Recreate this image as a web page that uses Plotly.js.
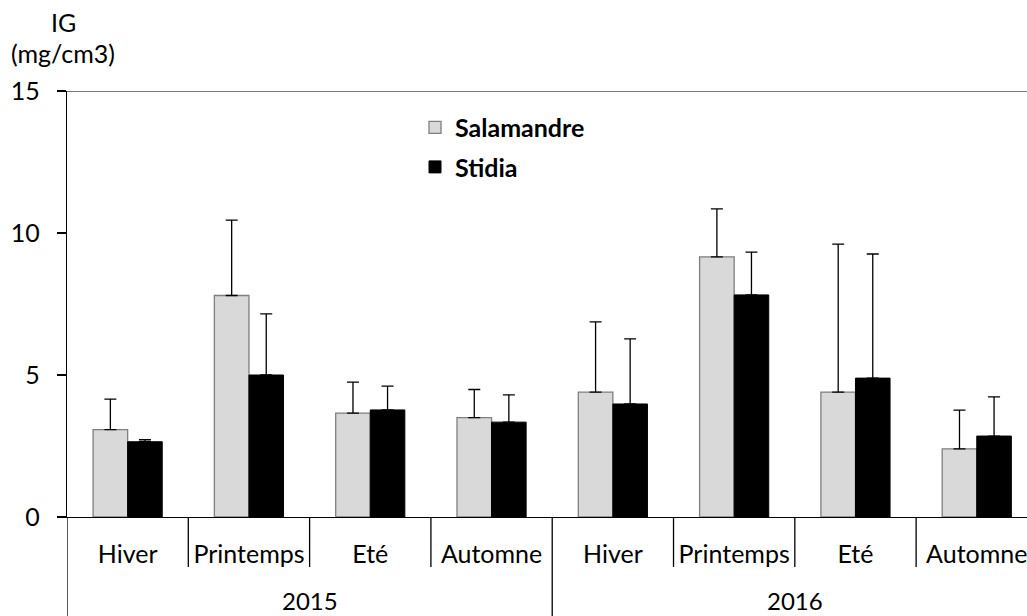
<!DOCTYPE html>
<html>
<head>
<meta charset="utf-8">
<script src="https://cdn.plot.ly/plotly-3.0.1.min.js"></script>
<style>html,body{margin:0;padding:0;background:#fff;overflow:hidden;}</style>
</head>
<body>
<div id="chart" style="width:1027px;height:616px;"></div>
<script>
// Data
const years = ["2015", "2016"];
const seasons = ["Hiver", "Printemps", "Eté", "Automne", "Hiver", "Printemps", "Eté", "Automne"];
const yearOfGroup = ["2015", "2015", "2015", "2015", "2016", "2016", "2016", "2016"];
const salamandre = [3.08, 7.80, 3.66, 3.50, 4.40, 9.16, 4.40, 2.40];
const salamandreErr = [1.07, 2.65, 1.09, 0.99, 2.47, 1.69, 5.21, 1.36];
const stidia = [2.65, 5.00, 3.77, 3.34, 3.98, 7.82, 4.89, 2.85];
const stidiaErr = [0.07, 2.15, 0.84, 0.96, 2.29, 1.51, 4.37, 1.38];
const yTicks = [0, 5, 10, 15];
const seriesNames = ["Salamandre", "Stidia"];
const yTitleLines = ["IG", "(mg/cm3)"];

const FONT = "Lato, 'Open Sans', sans-serif";
const xs = seasons.map((_, i) => i);

const traces = [
  {
    type: "bar", name: "<b>" + seriesNames[0] + "</b>", x: xs, y: salamandre,
    legendgroup: "a",
    marker: {color: "#d9d9d9", line: {color: "#7f7f7f", width: 1.3}},
    error_y: {type: "data", symmetric: false, array: salamandreErr, arrayminus: salamandre.map(() => 0),
      color: "#000", thickness: 1.3, width: 6}
  },
  {
    type: "bar", name: "<b>" + seriesNames[1] + "</b>", x: xs, y: stidia,
    legendgroup: "b",
    marker: {color: "#000000", line: {color: "#000000", width: 1}},
    error_y: {type: "data", symmetric: false, array: stidiaErr, arrayminus: stidia.map(() => 0),
      color: "#000", thickness: 1.3, width: 6}
  }
];

// boundaries between groups, derived from the category arrays
const shapes = [];
for (let i = 0; i < seasons.length; i++) {
  const isYearStart = i === 0 || yearOfGroup[i] !== yearOfGroup[i - 1];
  shapes.push({
    type: "line", xref: "x", yref: "paper",
    x0: i - 0.5, x1: i - 0.5, y0: 0, y1: isYearStart ? -0.235 : -0.1175,
    line: {color: "#000", width: 1.3}
  });
}
// top border line at the max tick
shapes.push({type: "line", xref: "paper", yref: "y", x0: 0, x1: 1,
  y0: yTicks[yTicks.length - 1], y1: yTicks[yTicks.length - 1], line: {color: "#4d4d4d", width: 1.5}});

const annotations = years.map(yr => {
  const idx = yearOfGroup.map((y, i) => y === yr ? i : -1).filter(i => i >= 0);
  const mid = (idx[0] + idx[idx.length - 1]) / 2;
  return {text: yr, xref: "x", yref: "paper", x: mid, y: -0.195, xanchor: "center", yanchor: "middle",
    showarrow: false, font: {family: FONT, size: 24, color: "#000"}};
});
yTitleLines.forEach((t, k) => {
  annotations.push({text: t, xref: "paper", yref: "paper", x: -0.004, y: 1.162 - k * 0.072,
    xanchor: "center", yanchor: "middle", showarrow: false,
    font: {family: FONT, size: 25, color: "#000"}});
});

const layout = {
  width: 1027, height: 616,
  margin: {l: 67, r: 0, t: 91, b: 99},
  paper_bgcolor: "#fff", plot_bgcolor: "#fff",
  font: {family: FONT, color: "#000"},
  barmode: "group", bargap: 0.43, bargroupgap: 0,
  showlegend: true,
  legend: {x: 0.3625, y: 0.968, xanchor: "left", yanchor: "top", bgcolor: "rgba(0,0,0,0)",
    font: {family: FONT, size: 25, color: "#000"}, traceorder: "grouped", tracegroupgap: 4},
  xaxis: {
    range: [-0.5, 7.414], tickmode: "array", tickvals: xs, ticktext: seasons,
    ticks: "", showline: true, linecolor: "#000", linewidth: 1.3, showgrid: false, zeroline: false,
    tickfont: {family: FONT, size: 25, color: "#000"}, ticklabelstandoff: 15,
    ticklabeloverflow: "allow", fixedrange: true
  },
  yaxis: {
    range: [0, 15], tickmode: "array", tickvals: yTicks, ticks: "outside", ticklen: 9, tickwidth: 1.3,
    tickcolor: "#000", showline: true, linecolor: "#000", linewidth: 1.3, showgrid: false, zeroline: false,
    tickfont: {family: FONT, size: 25, color: "#000"}, ticklabelstandoff: 12, fixedrange: true
  },
  shapes: shapes,
  annotations: annotations
};

Plotly.newPlot("chart", traces, layout, {displayModeBar: false, staticPlot: true});
</script>
</body>
</html>
